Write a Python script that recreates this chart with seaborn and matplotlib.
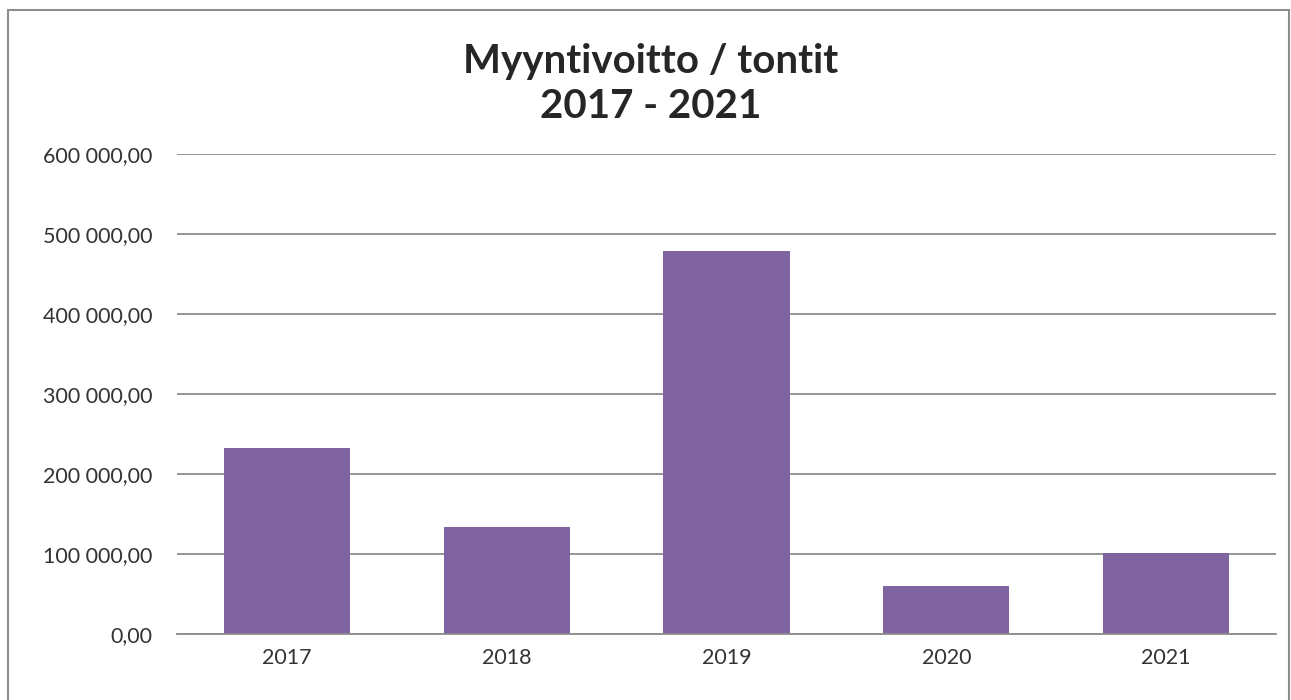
import matplotlib
matplotlib.use('Agg')
import matplotlib.pyplot as plt
import matplotlib.ticker as mticker
import pandas as pd
import seaborn as sns

# Chart data
years = ['2017', '2018', '2019', '2020', '2021']
profit = [232500, 133400, 478400, 60000, 101600]

df = pd.DataFrame({'year': years, 'profit': profit})

sns.set_style('white')
plt.rcParams['font.family'] = ['Lato', 'DejaVu Sans']

fig = plt.figure(figsize=(12.91, 7.0), dpi=100)
ax = fig.add_axes([177 / 1291, 1 - 634 / 700, 1099 / 1291, 480 / 700])

sns.barplot(data=df, x='year', y='profit', color='#8064A2', width=0.575,
            saturation=1, linewidth=0, ax=ax)

ax.set_ylim(0, 600000)
ax.set_yticks(range(0, 600001, 100000))
ax.yaxis.set_major_formatter(mticker.FuncFormatter(
    lambda v, p: f'{v:,.2f}'.replace(',', ' ').replace('.', ',')))
ax.grid(axis='y', color='#8c8c8c', linewidth=1.3)
ax.set_axisbelow(True)
for s in ['top', 'right', 'left']:
    ax.spines[s].set_visible(False)
ax.spines['bottom'].set_color('#8c8c8c')
ax.spines['bottom'].set_linewidth(1.3)
ax.tick_params(axis='both', length=0, labelsize=15.5, colors='#333333')
ax.tick_params(axis='y', pad=17.5)
ax.tick_params(axis='x', pad=10)
ax.set_xlabel('')
ax.set_ylabel('')

fig.text(651 / 1291, 1 - 84 / 700, 'Myyntivoitto / tontit\n2017 - 2021',
         ha='center', va='center', fontsize=29, fontweight='bold',
         linespacing=1.3)

# outer chart border
border = plt.Rectangle((8 / 1291, -0.01), 1281 / 1291, 1 - 10 / 700 + 0.01,
                       transform=fig.transFigure, fill=False,
                       edgecolor='#8c8c8c', linewidth=1.5)
fig.patches.append(border)

fig.savefig('out.png', dpi=100)
